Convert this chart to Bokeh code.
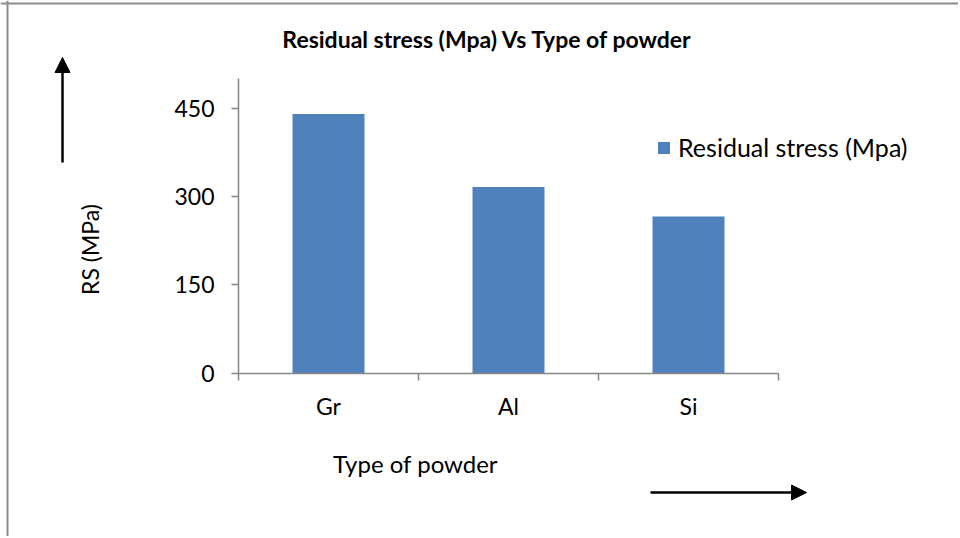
from math import pi

from bokeh.plotting import figure
from bokeh.models import (Range1d, LinearAxis, FixedTicker, Label, Arrow, NormalHead,
                          Legend, LegendItem, ColumnDataSource, Span)
from bokeh.embed import file_html
from bokeh.resources import INLINE

# ---- data ----
powders = ["Gr", "Al", "Si"]
residual_stress = [440, 316, 266]
y_ticks = [0, 150, 300, 450]
y_max = 500

# ---- layout (pixels on the canvas) ----
W, H = 958, 536
AXIS_X_PX = 238.0      # where the value axis sits
AXIS_Y_PX = 372.7      # where the category axis sits
PX_PER_CAT = 180.0
PX_PER_UNIT = 265.0 / 450.0

FONT = "Lato"
AXIS_GRAY = "#868686"
BAR_BLUE = "#4F81BD"
BORDER_GRAY = "#8c8c8c"


def dx(px):
    return (px - AXIS_X_PX) / PX_PER_CAT


def dy(py):
    return (AXIS_Y_PX - py) / PX_PER_UNIT


n = len(powders)
centers = [i + 0.5 for i in range(n)]
edges = [float(i) for i in range(n + 1)]

src = ColumnDataSource(dict(x=centers, powder=powders, rs=residual_stress))

p = figure(width=W, height=H,
           x_range=Range1d(dx(0), dx(W)), y_range=Range1d(dy(H), dy(0)),
           output_backend="svg", toolbar_location=None,
           x_axis_location=None, y_axis_location=None,
           min_border_left=0, min_border_right=0, min_border_top=0, min_border_bottom=0)
p.outline_line_color = None
p.grid.visible = False
p.background_fill_color = "white"
p.border_fill_color = "white"

# bars
bars = p.vbar(x="x", top="rs", width=0.4, source=src,
              fill_color=BAR_BLUE, line_color=None)

# value axis
yax = LinearAxis(fixed_location=0, bounds=(0, y_max),
                 ticker=FixedTicker(ticks=y_ticks),
                 axis_line_color=AXIS_GRAY, axis_line_width=1.5,
                 major_tick_line_color=AXIS_GRAY, major_tick_line_width=1.5,
                 major_tick_out=7, major_tick_in=0,
                 minor_tick_line_color=None,
                 major_label_text_font=FONT, major_label_text_font_size="23px",
                 major_label_text_color="black", major_label_standoff=17)
p.add_layout(yax, "left")

# category axis: labels at centres, tick marks at category boundaries
xax = LinearAxis(fixed_location=0, bounds=(0, n),
                 ticker=FixedTicker(ticks=centers, minor_ticks=edges),
                 major_label_overrides={c: name for c, name in zip(centers, powders)},
                 axis_line_color=AXIS_GRAY, axis_line_width=1.5,
                 major_tick_line_color=None, major_tick_out=0, major_tick_in=0,
                 minor_tick_line_color=AXIS_GRAY, minor_tick_line_width=1.5,
                 minor_tick_out=7, minor_tick_in=0,
                 major_label_text_font=FONT, major_label_text_font_size="23px",
                 major_label_text_color="black", major_label_standoff=12)
p.add_layout(xax, "below")

# title and axis titles
p.add_layout(Label(x=dx(487), y=dy(38), text="Residual stress (Mpa) Vs Type of powder",
                   text_align="center", text_baseline="middle",
                   text_font=FONT, text_font_size="23px", text_font_style="bold",
                   text_color="black"))
p.add_layout(Label(x=dx(89), y=dy(249), text="RS (MPa)", angle=pi / 2,
                   text_align="center", text_baseline="middle",
                   text_font=FONT, text_font_size="23px", text_color="black"))
p.add_layout(Label(x=dx(415), y=dy(463), text="Type of powder",
                   text_align="center", text_baseline="middle",
                   text_font=FONT, text_font_size="24px", text_color="black"))

# arrows
p.add_layout(Arrow(end=NormalHead(size=15, fill_color="black", line_color="black"),
                   x_start=dx(62), y_start=dy(162), x_end=dx(62), y_end=dy(57),
                   line_width=2.5, line_color="black"))
p.add_layout(Arrow(end=NormalHead(size=15, fill_color="black", line_color="black"),
                   x_start=dx(650), y_start=dy(492), x_end=dx(806), y_end=dy(492),
                   line_width=2.5, line_color="black"))

# chart-area border (left and top)
p.add_layout(Span(location=dx(7), dimension="height", line_color=BORDER_GRAY, line_width=2))
p.add_layout(Span(location=dy(3), dimension="width", line_color=BORDER_GRAY, line_width=2))

# legend
legend = Legend(items=[LegendItem(label="Residual stress (Mpa)", renderers=[bars])],
                location=(656, 374), border_line_color=None,
                background_fill_alpha=0, padding=0, margin=0, spacing=0,
                glyph_width=15, glyph_height=15, label_standoff=7,
                label_text_font=FONT, label_text_font_size="25px",
                label_text_color="black")
p.add_layout(legend)

open("out.html", "w").write(file_html(p, INLINE))
